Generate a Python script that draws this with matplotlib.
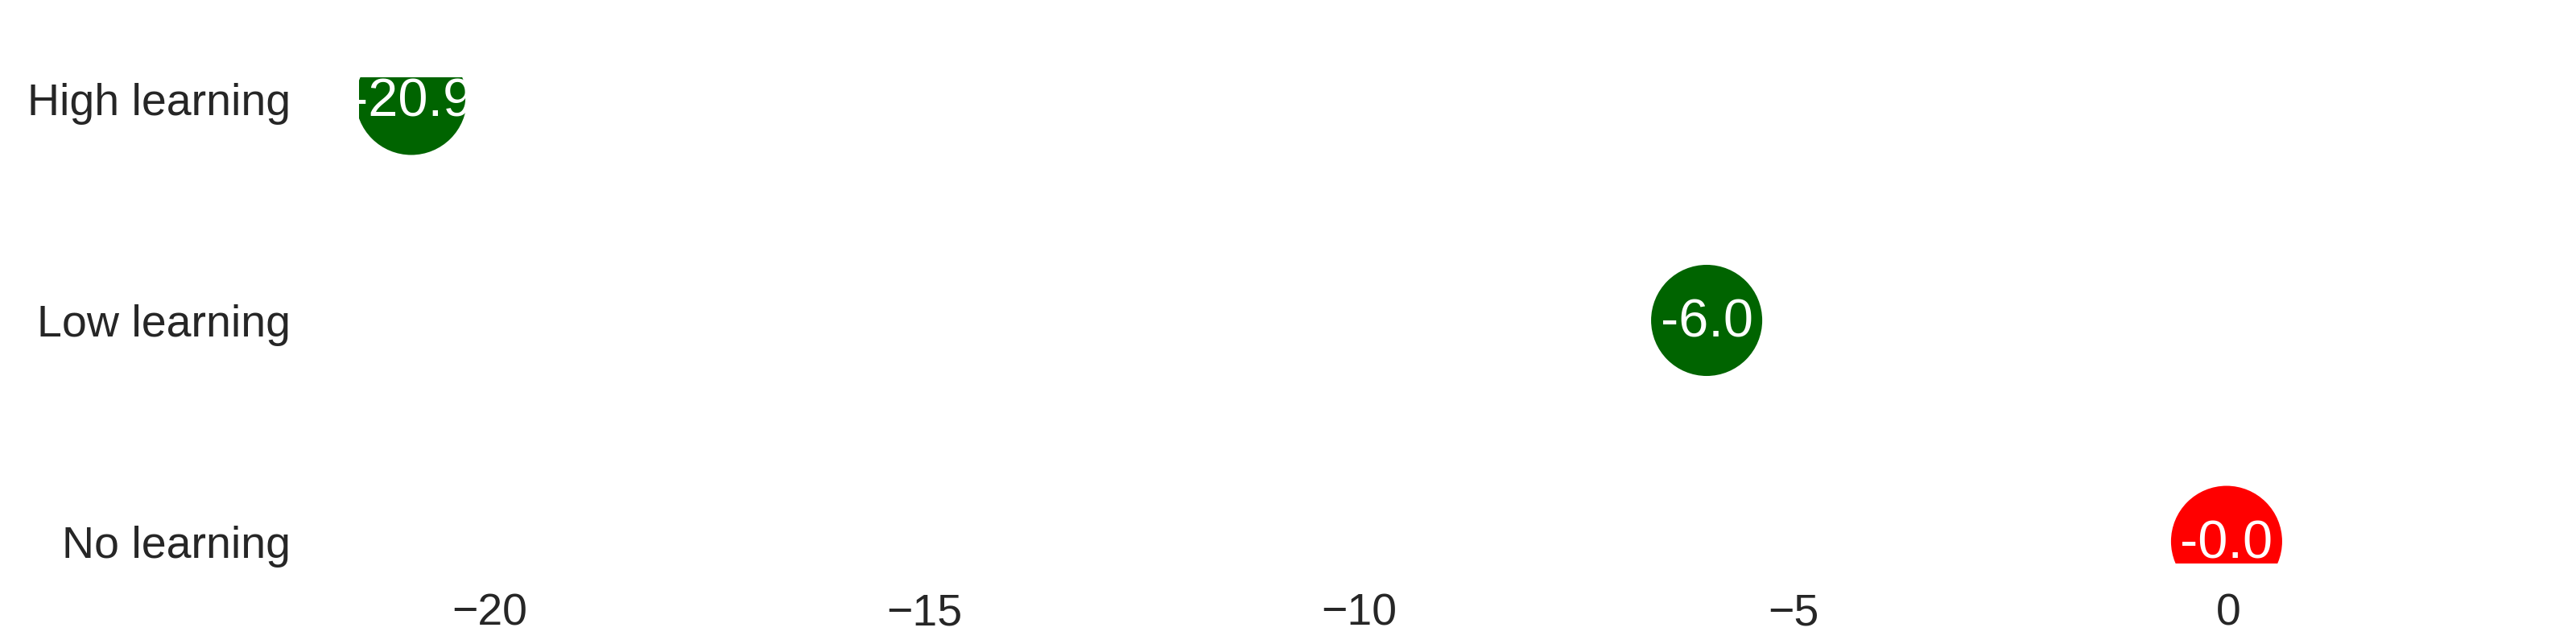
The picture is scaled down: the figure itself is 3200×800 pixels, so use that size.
import matplotlib
matplotlib.use("Agg")
import matplotlib.pyplot as plt

plt.rcParams.update({
    "font.family": ["Liberation Sans", "DejaVu Sans"],
    "text.color": "#262626",
    "xtick.color": "#262626",
    "ytick.color": "#262626",
})

categories = ["High learning", "Low learning", "No learning"]
values = [-20.9, -6.0, -0.02]
colors = ["darkgreen", "darkgreen", "red"]

fig = plt.figure(figsize=(16, 4), dpi=200)
ax = fig.add_axes([0.1394, 0.125, 0.84375, 0.755])

ypos = list(range(len(categories)))
ax.scatter(values, ypos, s=2470, c=colors, linewidths=0, zorder=2)
for v, y in zip(values, ypos):
    ax.annotate(f"{v:.1f}", (v, y), xytext=(0, -1.4), textcoords="offset points",
                color="white", fontsize=24, ha="center", va="center",
                zorder=3, annotation_clip=False, clip_on=True)

ax.set_yticks(ypos)
ax.set_yticklabels(categories)
ax.set_xticks([-20, -15, -10, -5, 0])
ax.set_xlim(-21.5, 3.5)
ax.set_ylim(2.1, -0.1)

ax.tick_params(axis="x", length=0, pad=13.3, labelsize=20)
ax.tick_params(axis="y", length=0, pad=30.6, labelsize=20)
for s in ax.spines.values():
    s.set_visible(False)

fig.savefig("out.png", dpi=200)
